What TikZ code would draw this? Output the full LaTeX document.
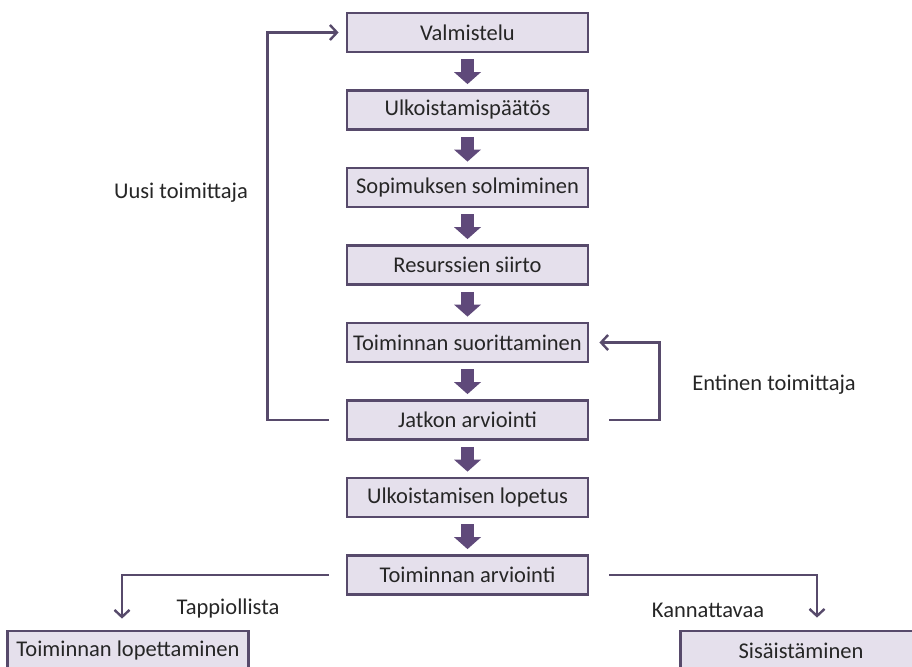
\documentclass[tikz,border=0pt]{standalone}
\usepackage{fontspec}
\setmainfont{Carlito}
\usetikzlibrary{arrows.meta,positioning,calc}

\definecolor{boxfill}{HTML}{E5E0EC}
\definecolor{boxline}{HTML}{574A6B}
\definecolor{arrowpurple}{HTML}{5F497A}
\definecolor{txt}{HTML}{262626}

\begin{document}
\begin{tikzpicture} [x=1pt, y=1pt, node distance=77.5pt,
  box/.style={rectangle, draw=boxline, fill=boxfill, line width=2.8pt,
    minimum width=241pt, minimum height=39pt, inner sep=0pt, text=txt,
    font=\fontsize{22.5}{26}\selectfont},
  lbl/.style={text=txt, font=\fontsize{22.5}{26}\selectfont, inner sep=0pt},
  blockarrow/.style={color=arrowpurple, line width=13pt,
    -{Triangle[width=27pt,length=12pt,line width=0pt,fill=arrowpurple]},
    shorten <=6pt, shorten >=5pt},
  loopline/.style={draw=boxline, line width=2.4pt,
    -{Straight Barb[length=7pt,width=15pt]}}]
\useasboundingbox (0,0) rectangle (912,-666);
\node[box] (valm) at (467.5,-32.5) {Valmistelu};
\node[box, below of=valm] (ulko) {Ulkoistamispäätös};
\node[box, below of=ulko] (sopi) {Sopimuksen solmiminen};
\node[box, below of=sopi] (resu) {Resurssien siirto};
\node[box, below of=resu] (suor) {Toiminnan suorittaminen};
\node[box, below of=suor] (jatk) {Jatkon arviointi};
\node[box, below of=jatk] (lope) {Ulkoistamisen lopetus};
\node[box, below of=lope] (arvi) {Toiminnan arviointi};
\node[box] (lopt) at (128,-650.5) {Toiminnan lopettaminen};
\node[box] (sisa) at (801,-650.5) {Sisäistäminen};

\node[lbl] (uusi) at (181,-193) {Uusi toimittaja};
\node[lbl] (enti) at (774,-385) {Entinen toimittaja};
\node[lbl] (tapp) at (228,-608) {Tappiollista};
\node[lbl] (kann) at (708,-610) {Kannattavaa};

\path[blockarrow] (valm) edge (ulko)
          (ulko) edge (sopi)
          (sopi) edge (resu)
          (resu) edge (suor)
          (suor) edge (jatk)
          (jatk) edge (lope)
          (lope) edge (arvi);

\draw[loopline] ([xshift=-17pt]jatk.west) -- ++(-61,0) |- ([xshift=-7pt]valm.west);
\draw[loopline] ([xshift=20pt]jatk.east) -- ++(50,0) |- ([xshift=10pt]suor.east);
\draw[loopline] ([xshift=-17pt]arvi.west) -| ([xshift=-6pt,yshift=11pt]lopt.north);
\draw[loopline] ([xshift=20pt]arvi.east) -| ([xshift=16pt,yshift=12pt]sisa.north);
\end{tikzpicture}
\end{document}
